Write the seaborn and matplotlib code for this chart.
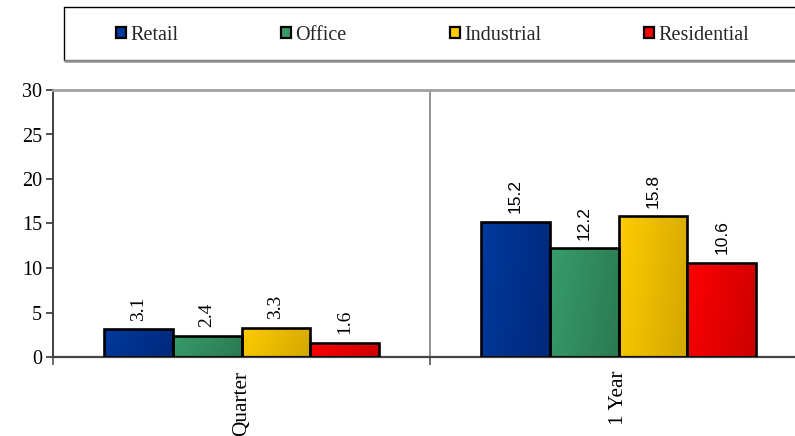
import numpy as np
import pandas as pd
import matplotlib
matplotlib.use("Agg")
import matplotlib.pyplot as plt
from matplotlib.colors import LinearSegmentedColormap
from matplotlib.patches import Patch
from matplotlib.lines import Line2D
import seaborn as sns

# Chart data
periods = ["Quarter", "1 Year"]
sectors = ["Retail", "Office", "Industrial", "Residential"]
retail = [3.1, 15.2]
office = [2.4, 12.2]
industrial = [3.3, 15.8]
residential = [1.6, 10.6]
y_ticks = [0, 5, 10, 15, 20, 25, 30]

# Fill colours (light edge -> dark edge of each bar)
light = ["#003a9e", "#379c69", "#ffcc00", "#ff0000"]
dark = ["#00287a", "#2a7a52", "#d2a600", "#cc0000"]

# long-form table: one row per (period, sector)
df = pd.DataFrame({
    "period": [p for p in periods for _ in sectors],
    "sector": [s for _ in periods for s in sectors],
    "value": [vals[i] for i in range(len(periods))
              for vals in (retail, office, industrial, residential)],
})

sns.set_theme(style="white")
serif = ["Liberation Serif", "DejaVu Serif"]
sans = ["Liberation Sans", "DejaVu Sans"]
plt.rcParams["font.family"] = serif

W, H = 795, 436
fig = plt.figure(figsize=(W / 100, H / 100), dpi=100)
ax = fig.add_axes([53 / W, (H - 357) / H, 754 / W, 267 / H])

sns.barplot(data=df, x="period", y="value", hue="sector", order=periods,
            hue_order=sectors, palette=light, width=0.73, edgecolor="black",
            linewidth=1.9, saturation=1, legend=False, ax=ax)

# gradient fill for every bar
gy, gx = np.mgrid[0:1:64j, 0:1:64j]
grad = 0.8 * gx + 0.2 * gy
for cont, c1, c2 in zip(ax.containers, light, dark):
    cmap = LinearSegmentedColormap.from_list("g", [c1, c2])
    for bar in cont:
        x0, y0 = bar.get_xy()
        w, h = bar.get_width(), bar.get_height()
        im = ax.imshow(grad, extent=(x0, x0 + w, y0, y0 + h), cmap=cmap,
                       aspect="auto", origin="upper", zorder=1.5,
                       interpolation="bilinear")
        im.set_clip_path(bar)
        bar.set_facecolor("none")
        bar.set_zorder(3)

# value labels
for cont in ax.containers:
    texts = ax.bar_label(cont, labels=[f"{v:.1f}" for v in cont.datavalues],
                         rotation=90, padding=6)
    texts[0].set_fontfamily(serif)
    texts[0].set_fontsize(14)
    texts[1].set_fontfamily(sans)
    texts[1].set_fontsize(12.5)
    for t in texts:
        t.set_color("black")

ax.set_xlim(-0.5, 1.5)
ax.set_ylim(0, 30)
ax.set_yticks(y_ticks)
ax.set_yticklabels([str(v) for v in y_ticks], fontsize=14.5, color="black")
ax.set_xticks([0, 1])
ax.set_xticklabels(periods, rotation=90, fontsize=15.3, color="black", va="top")
ax.set_xticks([-0.5, 0.5, 1.5], minor=True)
ax.tick_params(axis="x", which="major", length=0, pad=10)
ax.tick_params(axis="x", which="minor", length=6, width=1.2, color="#555555",
               direction="out", bottom=True)
ax.tick_params(axis="y", length=5, width=1.2, color="#333333", direction="out",
               left=True, pad=3)
ax.set_xlabel("")
ax.set_ylabel("")

ax.axvline(0.5, color="#808080", lw=1.2, zorder=1)
ax.spines["right"].set_visible(False)
ax.spines["top"].set_color("#a0a0a0")
ax.spines["top"].set_linewidth(2)
ax.spines["left"].set_color("#333333")
ax.spines["left"].set_linewidth(1.3)
ax.spines["bottom"].set_color("#444444")
ax.spines["bottom"].set_linewidth(1.6)

# legend box: top and left border, grey shadow below
top, bottom, left = (H - 7.5) / H, (H - 60) / H, 63.5 / W
fig.add_artist(Line2D([left, 1.02], [top, top], transform=fig.transFigure,
                      color="black", lw=1.0))
fig.add_artist(Line2D([left, left], [bottom, top], transform=fig.transFigure,
                      color="black", lw=1.0))
fig.add_artist(Line2D([left, 1.02], [bottom, bottom], transform=fig.transFigure,
                      color="#606060", lw=1.0))
fig.add_artist(Line2D([left + 1 / W, 1.02], [bottom - 1.5 / H] * 2,
                      transform=fig.transFigure, color="#909090", lw=1.8))

handles = [Patch(facecolor=c, edgecolor="black", linewidth=1.6) for c in light]
fig.legend(handles, sectors, loc="center left", ncol=4, frameon=False,
           bbox_to_anchor=(116 / W, (H - 35) / H), borderaxespad=0, borderpad=0,
           prop={"family": serif, "size": 14.5}, handlelength=0.5,
           handleheight=0.5, handletextpad=0.2, columnspacing=5.12)

fig.savefig("out.png", dpi=100)
